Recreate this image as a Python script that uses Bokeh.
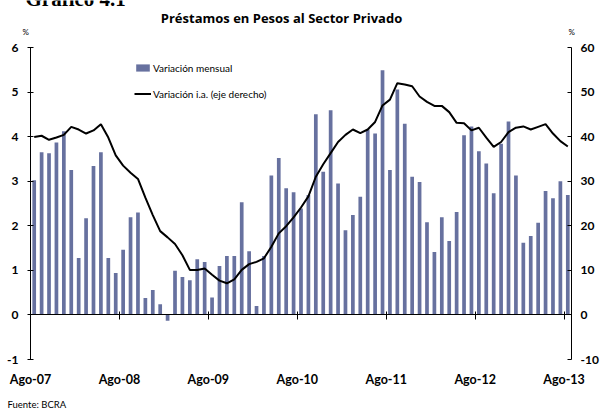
from bokeh.plotting import figure
from bokeh.layouts import column
from bokeh.models import (Range1d, LinearAxis, FixedTicker, Legend, LegendItem,
                          Label, ColumnDataSource, Grid)
from bokeh.embed import file_html
from bokeh.resources import INLINE

tick_labels = ["Ago-07", "Ago-08", "Ago-09", "Ago-10", "Ago-11", "Ago-12", "Ago-13"]

variacion_mensual = [
    3.02, 3.65, 3.63, 3.87, 4.12, 3.25, 1.28, 2.17, 3.34, 3.65, 1.28, 0.94,
    1.46, 2.19, 2.30, 0.38, 0.56, 0.24, -0.13, 0.99, 0.85, 0.78, 1.25, 1.19,
    0.39, 1.10, 1.32, 1.32, 2.53, 1.43, 0.20, 1.32, 3.13, 3.52, 2.84, 2.75,
    2.39, 2.69, 4.50, 3.21, 4.59, 2.95, 1.90, 2.24, 2.65, 4.16, 4.07, 5.49,
    3.25, 5.06, 4.29, 3.10, 2.98, 2.08, 1.41, 2.19, 1.66, 2.31, 4.03, 4.23,
    3.67, 3.40, 2.73, 3.84, 4.34, 3.13, 1.62, 1.77, 2.07, 2.78, 2.62, 3.00,
    2.69,
]

variacion_ia = [
    39.9, 40.2, 39.3, 39.8, 40.4, 42.2, 41.6, 40.7, 41.4, 42.8, 39.8, 35.8,
    33.5, 31.9, 30.5, 26.3, 22.4, 18.8, 17.4, 15.9, 13.4, 10.1, 10.1, 10.4,
    9.0, 7.7, 7.1, 8.0, 10.1, 11.4, 11.9, 12.7, 15.3, 18.3, 19.9, 21.9,
    24.1, 26.6, 31.0, 33.8, 36.3, 38.8, 40.4, 41.6, 40.8, 41.6, 43.3, 47.0,
    48.3, 52.0, 51.7, 51.3, 49.0, 47.8, 46.9, 46.9, 45.5, 43.1, 43.0, 41.4,
    42.0, 39.8, 37.7, 38.8, 41.0, 42.0, 42.3, 41.6, 42.2, 42.8, 40.7, 39.0,
    37.8,
]

n = len(variacion_mensual)
xs = [i + 0.5 for i in range(n)]
label_pos = [12 * i for i in range(len(tick_labels))]

src = ColumnDataSource(dict(x=xs, mensual=variacion_mensual, ia=variacion_ia))

FONT = "Lato"


def text_strip(height):
    f = figure(width=601, height=height, output_backend="svg", toolbar_location=None,
               x_axis_location=None, y_axis_location=None, min_border=0,
               x_range=Range1d(0, 1), y_range=Range1d(0, 1), title=None)
    f.outline_line_color = None
    f.frame_align = False
    for g in f.select(type=Grid):
        g.visible = False
    return f


def add_text(fig, text, x, y, size, style="normal", align="left", font=FONT,
             baseline="middle"):
    fig.add_layout(Label(x=x, y=y, x_units="screen", y_units="screen", text=text,
                         text_font=font, text_font_size=size, text_font_style=style,
                         text_align=align, text_baseline=baseline, text_color="black"))


# ---- header strip (page y 0..38)
header = text_strip(38)
add_text(header, "Gráfico 4.1", 25, 40, "21px", "bold", "left", "Liberation Serif",
         "alphabetic")
add_text(header, "Préstamos en Pesos al Sector Privado", 281, 21, "13px", "bold",
         "center", "Open Sans")
add_text(header, "%", 22, 7, "8px")
add_text(header, "%", 568, 7, "8px")

# ---- main chart
p = figure(frame_width=545, frame_height=312, output_backend="svg", toolbar_location=None,
           x_range=Range1d(0, n), y_range=Range1d(-1, 6),
           x_axis_location=None, y_axis_location=None,
           min_border_left=30, min_border_right=26, min_border_top=9,
           min_border_bottom=36, title=None)
p.frame_align = False
p.outline_line_color = None
p.background_fill_color = "white"
p.border_fill_color = "white"
for g in p.select(type=Grid):
    g.visible = False

p.extra_y_ranges = {"ia": Range1d(-10, 60)}


def style_axis(ax):
    ax.major_label_text_font = FONT
    ax.major_label_text_font_style = "bold"
    ax.major_label_text_font_size = "12px"
    ax.major_label_text_color = "black"
    ax.axis_line_color = "black"
    ax.major_tick_line_color = "black"
    ax.minor_tick_line_color = None


left = LinearAxis(ticker=FixedTicker(ticks=list(range(-1, 7))),
                  major_label_overrides={-1: "-1"})
style_axis(left)
left.major_tick_out = 3
left.major_tick_in = 3
left.major_label_standoff = 9
p.add_layout(left, "left")

right = LinearAxis(y_range_name="ia", ticker=FixedTicker(ticks=list(range(-10, 61, 10))),
                   major_label_overrides={-10: "-10"})
style_axis(right)
right.major_tick_out = 0
right.major_tick_in = 4
right.major_label_standoff = 9
p.add_layout(right, "right")

bottom = LinearAxis(ticker=FixedTicker(ticks=label_pos),
                    major_label_overrides={pos: lab for pos, lab in zip(label_pos, tick_labels)})
style_axis(bottom)
bottom.major_label_text_font_size = "12.5px"
bottom.axis_line_color = None
bottom.major_tick_line_color = None
bottom.major_tick_out = 0
bottom.major_tick_in = 0
bottom.major_label_standoff = 12
p.add_layout(bottom, "below")

zero_axis = LinearAxis(ticker=FixedTicker(ticks=label_pos), fixed_location=0)
style_axis(zero_axis)
zero_axis.major_label_text_font_size = "0px"
zero_axis.major_tick_in = 5
zero_axis.major_tick_out = 3
p.add_layout(zero_axis, "above")

bars = p.vbar(x="x", top="mensual", width=0.5, source=src,
              fill_color="#67719f", line_color=None)
line = p.line(x="x", y="ia", source=src, y_range_name="ia",
              line_color="black", line_width=2)

legend = Legend(items=[LegendItem(label="Variación mensual", renderers=[bars]),
                       LegendItem(label="Variación i.a. (eje derecho)", renderers=[line])],
                location=(104, 259))
legend.border_line_color = None
legend.background_fill_alpha = 0
legend.padding = 0
legend.margin = 0
legend.spacing = 13
legend.glyph_width = 17
legend.glyph_height = 9
legend.label_height = 13
legend.label_standoff = 2
legend.label_text_font = FONT
legend.label_text_font_size = "10px"
legend.label_text_color = "black"
p.add_layout(legend, "center")

# ---- footer strip (page y 395..417)
footer = text_strip(22)
add_text(footer, "Fuente: BCRA", 7, 13, "9.5px")

page = column(header, p, footer, width=601, spacing=0, styles={"overflow": "hidden"})

open("out.html", "w").write(file_html(page, INLINE))
